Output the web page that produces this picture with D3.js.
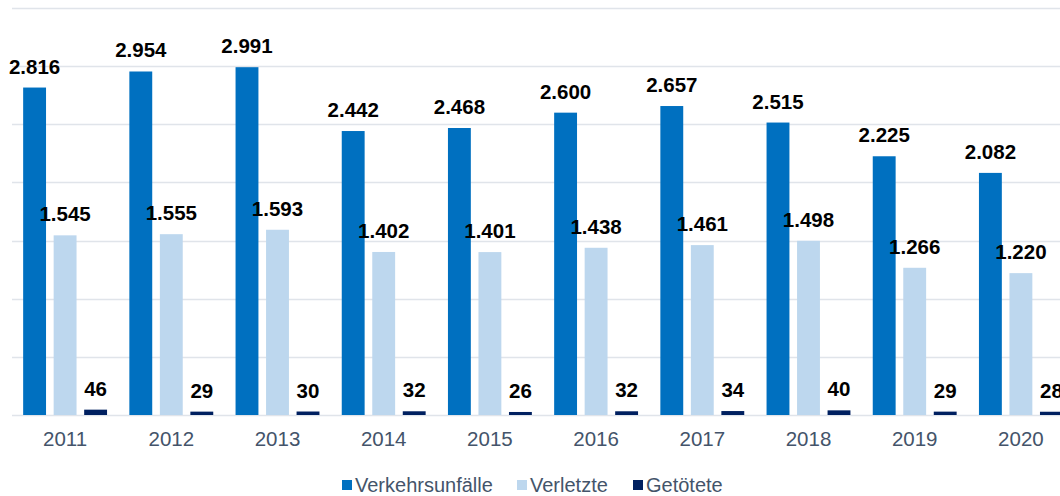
<!DOCTYPE html>
<html>
<head>
<meta charset="utf-8">
<script src="https://cdn.jsdelivr.net/npm/d3@7"></script>
<style>
  body { margin: 0; background: #fff; }
  svg { display: block; font-family: "Liberation Sans", Arial, sans-serif; }
</style>
</head>
<body>
<div id="vis"></div>
<script>
const years = ["2011", "2012", "2013", "2014", "2015", "2016", "2017", "2018", "2019", "2020"];
const seriesNames = ["Verkehrsunfälle", "Verletzte", "Getötete"];
const unfaelle = [2816, 2954, 2991, 2442, 2468, 2600, 2657, 2515, 2225, 2082];
const verletzte = [1545, 1555, 1593, 1402, 1401, 1438, 1461, 1498, 1266, 1220];
const getoetete = [46, 29, 30, 32, 26, 32, 34, 40, 29, 28];
const yTicks = [0, 500, 1000, 1500, 2000, 2500, 3000, 3500];

const colors = ["#0070C0", "#BDD7EE", "#002060"];
const W = 1060, H = 496;
const plot = {left: 12, right: 1074, top: 8, bottom: 415};

const seriesValues = [unfaelle, verletzte, getoetete];
const rows = years.map((y, i) => ({
    year: y,
    vals: seriesNames.map((s, j) => ({series: s, idx: j, value: seriesValues[j][i]}))
}));

const svg = d3.select("#vis").append("svg")
    .attr("width", W)
    .attr("height", H);

const x0 = d3.scaleBand()
    .domain(years)
    .range([plot.left, plot.right])
    .paddingInner(0.21)
    .paddingOuter(0.105);

const x1 = d3.scaleBand()
    .domain(seriesNames)
    .range([0, x0.bandwidth()])
    .paddingInner(0.25);

const y = d3.scaleLinear()
    .domain([0, 3500])
    .range([plot.bottom, plot.top]);

// gridlines
svg.append("g")
    .selectAll("line")
    .data(yTicks)
    .join("line")
    .attr("x1", plot.left)
    .attr("x2", W)
    .attr("y1", d => Math.round(y(d)) + 0.5)
    .attr("y2", d => Math.round(y(d)) + 0.5)
    .attr("stroke", "#e0e4ea")
    .attr("stroke-width", 1.5);

const groups = svg.append("g")
    .selectAll("g")
    .data(rows)
    .join("g")
    .attr("transform", d => `translate(${x0(d.year)},0)`);

groups.selectAll("rect")
    .data(d => d.vals)
    .join("rect")
    .attr("x", d => x1(d.series))
    .attr("y", d => y(d.value))
    .attr("width", x1.bandwidth())
    .attr("height", d => y(0) - y(d.value))
    .attr("fill", d => colors[d.idx]);

groups.selectAll("text")
    .data(d => d.vals)
    .join("text")
    .attr("x", d => x1(d.series) + x1.bandwidth() / 2)
    .attr("y", d => y(d.value) - 14)
    .attr("text-anchor", "middle")
    .style("font-size", "20.5px")
    .style("font-weight", "bold")
    .style("fill", "#000")
    .text(d => d3.format(",")(d.value).replace(/,/g, "."));

// x axis labels
const xAxis = svg.append("g")
    .attr("transform", `translate(0,${plot.bottom})`)
    .call(d3.axisBottom(x0).tickSize(0).tickPadding(16));
xAxis.select(".domain").remove();
xAxis.selectAll("text")
    .style("font-size", "20.5px")
    .style("font-family", "Liberation Sans, Arial, sans-serif")
    .attr("fill", "#44546A");

// legend
const legendX = [342, 517, 633];
const legend = svg.append("g")
    .selectAll("g")
    .data(seriesNames)
    .join("g")
    .attr("transform", (d, i) => `translate(${legendX[i]},480)`);

legend.append("rect")
    .attr("width", 10)
    .attr("height", 10)
    .attr("fill", (d, i) => colors[i]);

legend.append("text")
    .attr("x", 13)
    .attr("y", 11.5)
    .style("font-size", "20px")
    .style("fill", "#44546A")
    .text(d => d);
</script>
</body>
</html>
